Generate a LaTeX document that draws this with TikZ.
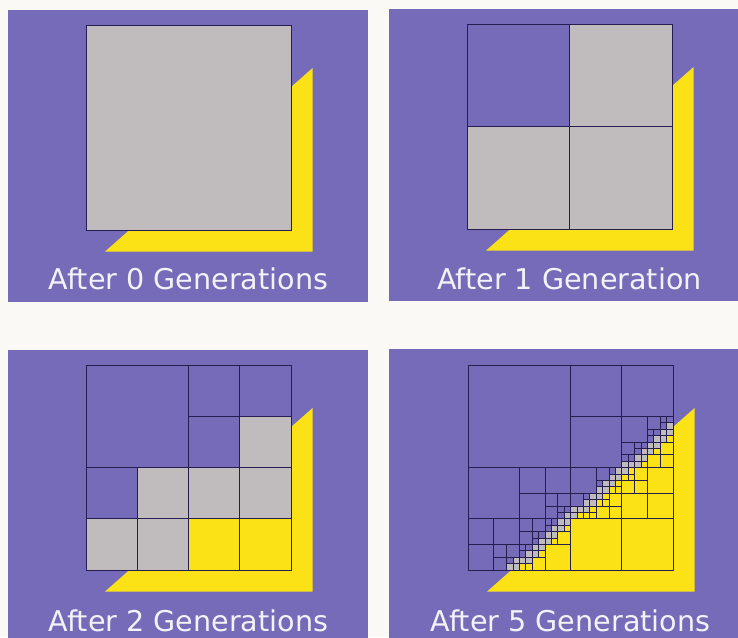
\documentclass[tikz,border=0pt]{standalone}
\usepackage{fontspec}
\setmainfont{DejaVu Sans}
\usepackage{tikz}
\definecolor{pagebg}{RGB}{250,249,246}
\definecolor{panelfill}{RGB}{117,107,184}
\definecolor{cellline}{RGB}{38,30,78}
\definecolor{mixfill}{RGB}{192,188,190}
\definecolor{infill}{RGB}{250,226,22}
\definecolor{capcolor}{RGB}{244,242,248}
\tikzset{
  panel/.style   = {fill=panelfill},
  backtri/.style = {fill=infill},
  outcell/.style = {draw=cellline, line width=0.7pt},
  mixcell/.style = {outcell, fill=mixfill},
  incell/.style  = {outcell, fill=infill},
  caption/.style = {text=capcolor, font=\fontsize{28.6}{30}\selectfont,
                    anchor=base, inner sep=0pt},
}
% one quadtree cell: x0, y0, size, levels left
\newcommand\qtcell[4]{%
  \begingroup
  \pgfmathtruncatemacro\qtkind{(#2+#3<=hyp(#1)) ? 1 : ((#2>=hyp(#1+#3)) ? 2 : 0)}%
  \ifnum\qtkind=1
    \path[incell] (#1,#2) rectangle ++(#3,#3);
  \else\ifnum\qtkind=2
    \path[outcell] (#1,#2) rectangle ++(#3,#3);
  \else\ifnum#4=0
    \path[mixcell] (#1,#2) rectangle ++(#3,#3);
  \else
    \pgfmathsetmacro\qth{#3/2}%
    \pgfmathsetmacro\qtxm{#1+#3/2}%
    \pgfmathsetmacro\qtym{#2+#3/2}%
    \pgfmathtruncatemacro\qtlev{#4-1}%
    \edef\qtnext{%
      \noexpand\qtcell{#1}{#2}{\qth}{\qtlev}%
      \noexpand\qtcell{\qtxm}{#2}{\qth}{\qtlev}%
      \noexpand\qtcell{#1}{\qtym}{\qth}{\qtlev}%
      \noexpand\qtcell{\qtxm}{\qtym}{\qth}{\qtlev}}%
    \qtnext
  \fi\fi\fi
  \endgroup}
% triangle behind the square, then its cells
\newcommand\qtpanel[2]{%
  \begin{scope}[shift={#1}, x=205pt, y=205pt]
    \fill[backtri] (0.093,-0.105) -- (1.105,-0.105) -- (1.105,0.79) -- cycle;
    \qtcell{0}{0}{1}{#2}
  \end{scope}}

\begin{document}
\begin{tikzpicture}[x=1pt, y=1pt,
    declare function={hyp(\t)=-0.105+0.884*(\t-0.093);}]
    \clip (0,0) rectangle (738,637);
    \fill[pagebg] (0,0) rectangle (738,637);
    % Row 1: generations 0 and 1
    \fill[panel] (8,335) rectangle (368,627);
    \qtpanel{(86pt,407pt)}{0}
    \node[caption] (g0) at (188.5,347) {After 0 Generations};
    \fill[panel] (389,336) rectangle (749,628);
    \qtpanel{(467pt,408pt)}{1}
    \node[caption] (g1) at (569.5,347) {After 1 Generation};
    % Row 2: generations 2 and 5
    \fill[panel] (8,-10) rectangle (368,287);
    \qtpanel{(86pt,67pt)}{2}
    \node[caption] (g2) at (188.5,6) {After 2 Generations};
    \fill[panel] (389,-10) rectangle (749,288);
    \qtpanel{(468pt,67pt)}{5}
    \node[caption] (g5) at (570.5,6) {After 5 Generations};
\end{tikzpicture}
\end{document}
